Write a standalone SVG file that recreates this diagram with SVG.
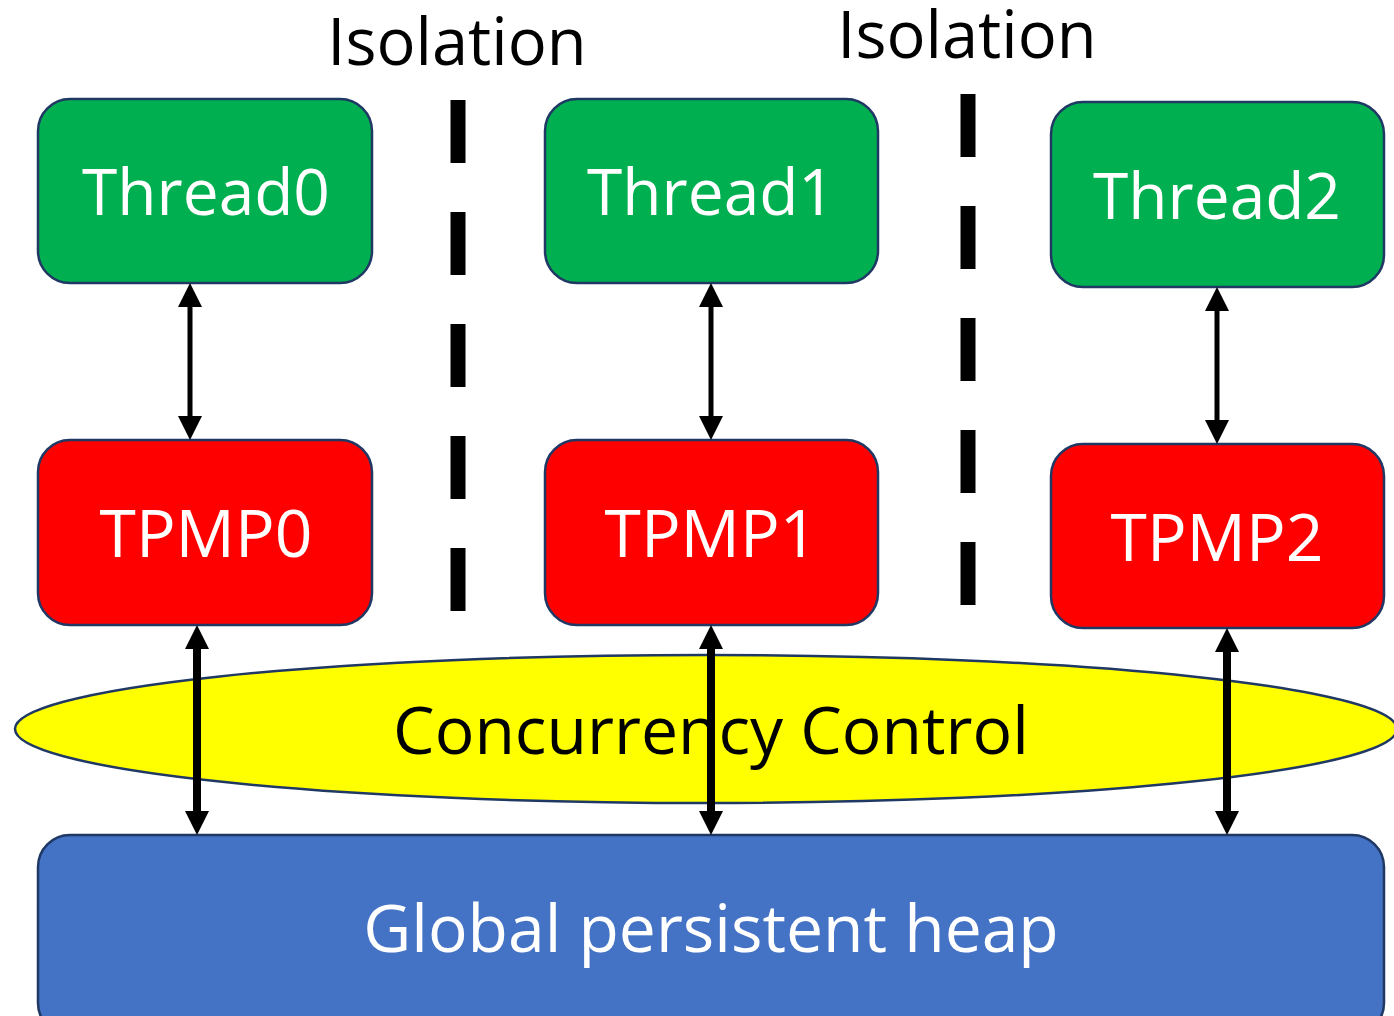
<svg xmlns="http://www.w3.org/2000/svg" width="1394" height="1016" viewBox="0 0 1394 1016">
  <defs>
    <style>
      .box { stroke: #1f3864; stroke-width: 2.5; }
      .thread { fill: #00b050; }
      .tpmp { fill: #ff0000; }
      .heap { fill: #4472c4; }
      .cc { fill: #ffff00; stroke: #1f3864; stroke-width: 2.5; }
      .label { font-family: "Open Sans", "Noto Sans", "Liberation Sans", sans-serif; text-anchor: middle; }
      .white { fill: #ffffff; }
      .black { fill: #000000; }
      .iso { stroke: #000000; stroke-width: 15; stroke-dasharray: 63 49; fill: none; }
      .link { stroke: #000000; fill: none; marker-start: url(#head); marker-end: url(#head); }
      .thin { stroke-width: 5; }
      .thick { stroke-width: 8; }
    </style>
    <marker id="head" markerUnits="userSpaceOnUse" markerWidth="24" markerHeight="24" viewBox="0 0 24 24" refX="12" refY="12" orient="auto-start-reverse">
      <path d="M0,0 L24,12 L0,24 Z" fill="#000000"/>
    </marker>
  </defs>

  <!-- isolation labels -->
  <text class="label black" x="457" y="65" font-size="65">Isolation</text>
  <text class="label black" x="967" y="58" font-size="65">Isolation</text>

  <!-- isolation boundaries between threads -->
  <g id="isolation-lines">
    <line class="iso" x1="458" y1="100" x2="458" y2="612"/>
    <line class="iso" x1="968" y1="94" x2="968" y2="606"/>
  </g>

  <!-- concurrency control layer -->
  <g id="concurrency-control">
    <ellipse class="cc" cx="706" cy="729" rx="691" ry="74"/>
    <text class="label black" x="711" y="754" font-size="66">Concurrency Control</text>
  </g>

  <!-- shared heap -->
  <g id="global-heap">
    <rect class="box heap" x="38" y="835" width="1346" height="200" rx="32"/>
    <text class="label white" x="711" y="952" font-size="66">Global persistent heap</text>
  </g>

  <!-- threads -->
  <g id="thread0">
    <rect class="box thread" x="38" y="99" width="334" height="184" rx="32"/>
    <text class="label white" x="206" y="215" font-size="64">Thread0</text>
  </g>
  <g id="thread1">
    <rect class="box thread" x="545" y="99" width="333" height="184" rx="32"/>
    <text class="label white" x="711" y="215" font-size="64">Thread1</text>
  </g>
  <g id="thread2">
    <rect class="box thread" x="1051" y="102" width="333" height="185" rx="32"/>
    <text class="label white" x="1217" y="219" font-size="64">Thread2</text>
  </g>

  <!-- per-thread memory pools -->
  <g id="tpmp0">
    <rect class="box tpmp" x="38" y="440" width="334" height="185" rx="32"/>
    <text class="label white" x="206" y="557" font-size="66">TPMP0</text>
  </g>
  <g id="tpmp1">
    <rect class="box tpmp" x="545" y="440" width="333" height="185" rx="32"/>
    <text class="label white" x="711" y="557" font-size="66">TPMP1</text>
  </g>
  <g id="tpmp2">
    <rect class="box tpmp" x="1051" y="444" width="333" height="184" rx="32"/>
    <text class="label white" x="1217" y="561" font-size="66">TPMP2</text>
  </g>

  <!-- connectors -->
  <g id="connectors">
    <line class="link thin" x1="190" y1="295" x2="190" y2="428"/>
    <line class="link thin" x1="711" y1="295" x2="711" y2="428"/>
    <line class="link thin" x1="1217" y1="299" x2="1217" y2="432"/>
    <line class="link thick" x1="197" y1="637" x2="197" y2="823"/>
    <line class="link thick" x1="711" y1="637" x2="711" y2="823"/>
    <line class="link thick" x1="1227" y1="640" x2="1227" y2="823"/>
  </g>
</svg>
